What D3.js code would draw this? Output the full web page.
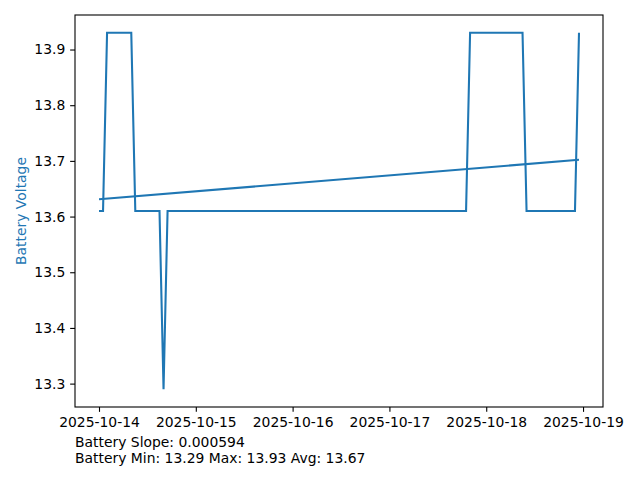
<!DOCTYPE html>
<html lang="en">
  <head>
    <meta charset="UTF-8" />
    <title>Battery Voltage</title>
    <script src="https://d3js.org/d3.v7.min.js"></script>
    <style>
      body {
        margin: 0;
        background: white;
        font-family: 'DejaVu Sans', sans-serif;
      }
      .tick text {
        font-size: 13.9px;
        font-family: 'DejaVu Sans', sans-serif;
        fill: black;
      }
      .note {
        font-size: 13.9px;
        fill: black;
      }
    </style>
  </head>
  <body>
    <svg width="640" height="480"></svg>

    <script>
      // breakpoints of the voltage trace (hourly samples, flat runs collapsed)
      const times = [
        '2025-10-14 00:00', '2025-10-14 01:00', '2025-10-14 02:00',
        '2025-10-14 08:00', '2025-10-14 09:00', '2025-10-14 15:00',
        '2025-10-14 16:00', '2025-10-14 17:00', '2025-10-17 19:00',
        '2025-10-17 20:00', '2025-10-18 09:00', '2025-10-18 10:00',
        '2025-10-18 22:00', '2025-10-18 23:00',
      ];
      const voltage = [
        13.61, 13.61, 13.93, 13.93, 13.61, 13.61, 13.29,
        13.61, 13.61, 13.93, 13.93, 13.61, 13.61, 13.93,
      ];
      // trend line endpoints
      const trendTimes = ['2025-10-14 00:00', '2025-10-18 23:00'];
      const trendValues = [13.631, 13.702];
      const yTicks = [13.3, 13.4, 13.5, 13.6, 13.7, 13.8, 13.9];
      const xTicks = ['2025-10-14', '2025-10-15', '2025-10-16', '2025-10-17', '2025-10-18', '2025-10-19'];
      const notes = [
        'Battery Slope: 0.000594',
        'Battery Min: 13.29 Max: 13.93 Avg: 13.67',
      ];

      const parseT = d3.utcParse('%Y-%m-%d %H:%M');
      const parseD = d3.utcParse('%Y-%m-%d');

      const svg = d3.select('svg');
      const mLeft = 75, mRight = 603, mTop = 15, mBottom = 407;
      const blue = '#1f77b4';

      const t0 = parseT(times[0]), t1 = parseT(times[times.length - 1]);
      const pad = (t1 - t0) * 0.05;
      const x = d3.scaleUtc()
        .domain([new Date(+t0 - pad), new Date(+t1 + pad)])
        .range([mLeft, mRight]);

      const vMin = d3.min(voltage), vMax = d3.max(voltage);
      const vPad = (vMax - vMin) * 0.05;
      const y = d3.scaleLinear()
        .domain([vMin - vPad, vMax + vPad])
        .range([mBottom, mTop]);

      const line = d3.line()
        .x((d) => x(d[0]))
        .y((d) => y(d[1]));

      svg.append('path')
        .datum(times.map((t, i) => [parseT(t), voltage[i]]))
        .attr('fill', 'none')
        .attr('stroke', blue)
        .attr('stroke-width', 2.08)
        .attr('d', line);

      svg.append('path')
        .datum(trendTimes.map((t, i) => [parseT(t), trendValues[i]]))
        .attr('fill', 'none')
        .attr('stroke', blue)
        .attr('stroke-width', 2.08)
        .attr('d', line);

      // Axes
      const xAxis = svg.append('g')
        .attr('transform', `translate(0,${mBottom})`)
        .call(d3.axisBottom(x)
          .tickValues(xTicks.map(parseD))
          .tickFormat(d3.utcFormat('%Y-%m-%d'))
          .tickSize(4.86)
          .tickPadding(4.86));

      const yAxis = svg.append('g')
        .attr('transform', `translate(${mLeft},0)`)
        .call(d3.axisLeft(y)
          .tickValues(yTicks)
          .tickFormat(d3.format('.1f'))
          .tickSize(4.86)
          .tickPadding(4.86));

      [xAxis, yAxis].forEach((g) => {
        g.select('.domain').remove();
        g.selectAll('.tick line').attr('stroke', 'black').attr('stroke-width', 1.1);
      });

      svg.append('rect')
        .attr('x', mLeft)
        .attr('y', mTop)
        .attr('width', mRight - mLeft)
        .attr('height', mBottom - mTop)
        .attr('fill', 'none')
        .attr('stroke', 'black')
        .attr('stroke-width', 1.1);

      svg.append('text')
        .attr('transform', `translate(26,${(mTop + mBottom) / 2}) rotate(-90)`)
        .attr('text-anchor', 'middle')
        .style('font-size', '13.9px')
        .style('fill', blue)
        .text('Battery Voltage');

      svg.selectAll('.note')
        .data(notes)
        .enter()
        .append('text')
        .attr('class', 'note')
        .attr('x', mLeft)
        .attr('y', (d, i) => 446.5 + i * 16)
        .text((d) => d);
    </script>
  </body>
</html>
